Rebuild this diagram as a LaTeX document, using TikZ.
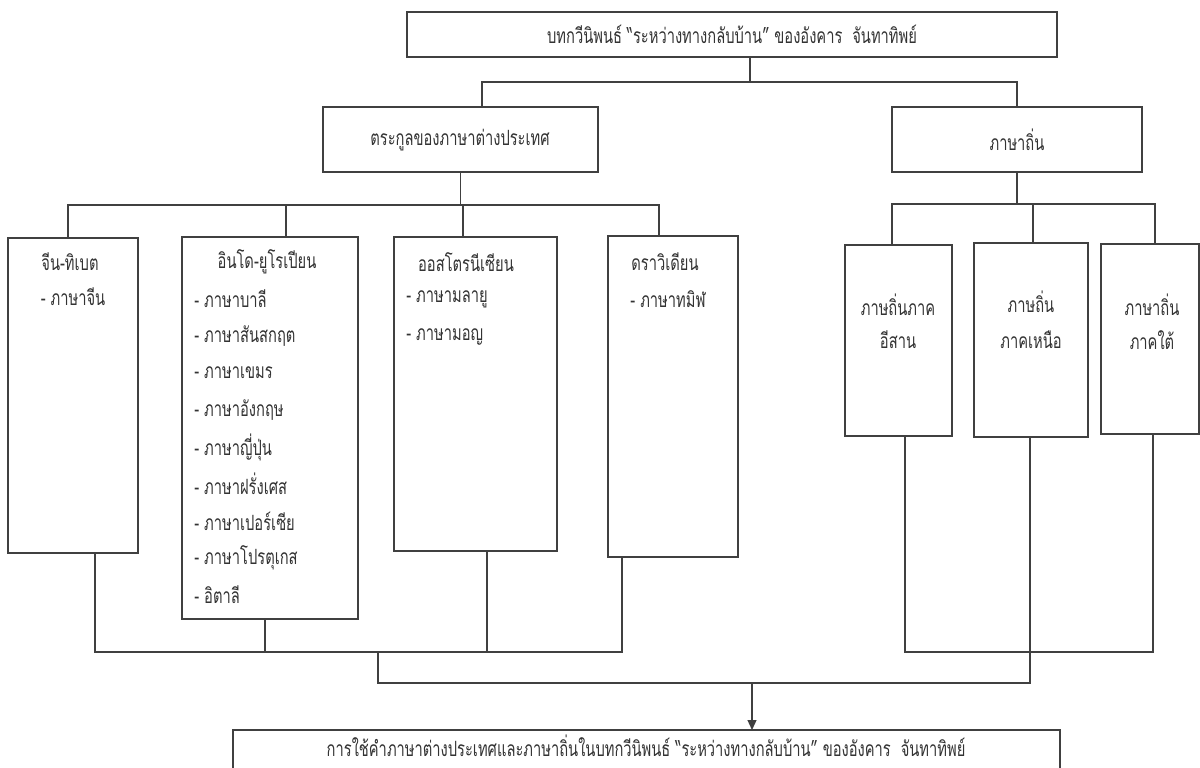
\documentclass[tikz,border=0pt]{standalone}
\usepackage{fontspec}
\setmainfont[Script=Thai, FakeStretch=0.7]{Loma}
\usepackage{tikz}
\usetikzlibrary{arrows.meta}

\tikzset{
  box/.style={draw=black!75, line width=0.6pt, fill=white, anchor=north west, inner sep=0pt, outer sep=0pt},
  ttl/.style={text=black!80, inner sep=1pt},
  item/.style={text=black!80, anchor=west, inner sep=1pt},
  link/.style={draw=black!75, line width=0.6pt}
}
% box from (x1,y1) to (x2,y2), pixel units
\newcommand{\pbox}[5]{\node[box, minimum width={(#4-#2)*0.5pt}, minimum height={(#5-#3)*0.5pt}] (#1) at (#2,#3) {};}

\begin{document}
\begin{tikzpicture}[x=0.5pt, y=-0.5pt, every node/.style={font=\fontsize{10.5}{12}\selectfont}]
    \clip (0,0) rectangle (1200,767);
    \fill[white] (0,0) rectangle (1200,767);

    % Top and second level
    \pbox{top}{407}{12}{1057}{57}
    \node[ttl] (topT) at (732,34) {บทกวีนิพนธ์ “ระหว่างทางกลับบ้าน” ของอังคาร\ \ จันทาทิพย์};
    \pbox{fam}{323}{107}{598}{172}
    \node[ttl] (famT) at (460,140) {ตระกูลของภาษาต่างประเทศ};
    \pbox{loc}{892}{107}{1142}{172}
    \node[ttl] (locT) at (1017,140) {ภาษาถิ่น};

    % Language families
    \pbox{cn}{8}{238}{138}{553}
    \node[ttl] (cnT) at (70,262) {จีน-ทิเบต};
    \node[ttl] (cn1) at (73,297) {- ภาษาจีน};

    \pbox{ie}{182}{237}{358}{619}
    \node[ttl] (ieT) at (267,262) {อินโด-ยูโรเปียน};
    \foreach \t [count=\i] in {ภาษาบาลี, ภาษาสันสกฤต, ภาษาเขมร, ภาษาอังกฤษ, ภาษาญี่ปุ่น,
                               ภาษาฝรั่งเศส, ภาษาเปอร์เซีย, ภาษาโปรตุเกส, อิตาลี}
        \node[item] (ie\i) at (192,{262+37*\i}) {- \t};

    \pbox{an}{394}{237}{557}{551}
    \node[ttl] (anT) at (466,262) {ออสโตรนีเซียน};
    \node[item] (an1) at (404,299) {- ภาษามลายู};
    \node[item] (an2) at (404,337) {- ภาษามอญ};

    \pbox{dr}{608}{236}{738}{557}
    \node[ttl] (drT) at (665,262) {ดราวิเดียน};
    \node[ttl] (dr1) at (668,299) {- ภาษาทมิฬ};

    % Local dialects
    \pbox{ne}{845}{245}{952}{436}
    \node[ttl] (neT) at (898,305) {ภาษถิ่นภาค};
    \node[ttl] (ne2) at (898,340) {อีสาน};
    \pbox{nt}{974}{243}{1088}{437}
    \node[ttl] (ntT) at (1031,302) {ภาษถิ่น};
    \node[ttl] (nt2) at (1031,340) {ภาคเหนือ};
    \pbox{st}{1101}{244}{1199}{434}
    \node[ttl] (stT) at (1152,305) {ภาษาถิ่น};
    \node[ttl] (st2) at (1152,340) {ภาคใต้};

    % Result
    \pbox{res}{233}{730}{1060}{800}
    \node[ttl] (resT) at (646,746) {การใช้คำภาษาต่างประเทศและภาษาถิ่นในบทกวีนิพนธ์ “ระหว่างทางกลับบ้าน” ของอังคาร\ \ จันทาทิพย์};

    % Connectors, top
    \coordinate (hA) at (482,82);
    \coordinate (hM) at (750,82);
    \coordinate (hB) at (1017,82);
    \draw[link] (top.south -| hM) -- (hM);
    \draw[link] (fam.north -| hA) -- (hA) -- (hB) -- (loc.north -| hB);

    % Connectors, families
    \coordinate (fL) at (68,205);
    \coordinate (fI) at (286,205);
    \coordinate (fA) at (463,205);
    \coordinate (fR) at (659,205);
    \draw[link] (fam.south) -- (fam.south |- fL);
    \draw[link] (cn.north -| fL) -- (fL) -- (fR) -- (dr.north -| fR);
    \draw[link] (fI) -- (ie.north -| fI);
    \draw[link] (fA) -- (an.north -| fA);

    % Connectors, dialects
    \coordinate (lL) at (892,204);
    \coordinate (lM) at (1033,204);
    \coordinate (lR) at (1155,204);
    \draw[link] (loc.south) -- (loc.south |- lL);
    \draw[link] (ne.north -| lL) -- (lL) -- (lR) -- (st.north -| lR);
    \draw[link] (lM) -- (nt.north -| lM);

    % Connectors, bottom
    \coordinate (bL) at (95,652);
    \coordinate (bI) at (265,652);
    \coordinate (bJ) at (378,652);
    \coordinate (bA) at (487,652);
    \coordinate (bR) at (622,652);
    \draw[link] (cn.south -| bL) -- (bL) -- (bR) -- (dr.south -| bR);
    \draw[link] (ie.south -| bI) -- (bI);
    \draw[link] (an.south -| bA) -- (bA);
    \coordinate (rL) at (905,652);
    \coordinate (rR) at (1153,652);
    \draw[link] (ne.south -| rL) -- (rL) -- (rR) -- (st.south -| rR);
    \coordinate (mL) at (378,683);
    \coordinate (mR) at (1030,683);
    \coordinate (mA) at (752,683);
    \draw[link] (bJ) -- (mL) -- (mR) -- (nt.south -| mR);
    \draw[link, -{Triangle[length=5pt, width=4.5pt]}] (mA) -- (res.north -| mA);
\end{tikzpicture}
\end{document}
